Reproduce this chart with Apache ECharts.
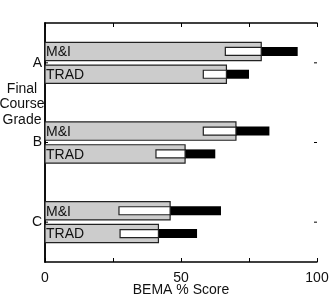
<!DOCTYPE html>
<html>
<head>
<meta charset="utf-8">
<script src="https://cdn.jsdelivr.net/npm/echarts@6/dist/echarts.min.js"></script>
<style>html,body{margin:0;padding:0;background:#fff}#c{width:331px;height:300px}</style>
</head>
<body>
<div id="c"></div>
<script>
var grades = ['A', 'B', 'C'];
var groups = ['M&I', 'TRAD'];
var meanMI = [79.5, 70.2, 46.0];
var lowMI = [66.3, 58.2, 27.2];
var highMI = [92.9, 82.5, 64.7];
var meanTRAD = [66.7, 51.5, 41.7];
var lowTRAD = [58.2, 40.8, 27.6];
var highTRAD = [75.0, 62.6, 55.9];
var xTicks = [0, 25, 50, 75, 100];
var xLabels = ['0', '', '50', '', '100'];

var data = [];
for (var i = 0; i < grades.length; i++) {
  data.push([i, 0, meanMI[i], lowMI[i], highMI[i]]);
  data.push([i, 1, meanTRAD[i], lowTRAD[i], highTRAD[i]]);
}

var FONT = 'Liberation Sans, Arial, sans-serif';

function renderItem(params, api) {
  var cat = api.value(0), g = api.value(1);
  var mean = api.value(2), lo = api.value(3), hi = api.value(4);
  var c0 = api.coord([0, cat]);
  var cR = api.coord([100, cat]);
  var band = api.size([0, 1])[1];
  var off = band * 0.143;
  var yc = c0[1] + (g === 0 ? -off : off);
  var bh = band * 0.23;
  var x0 = c0[0];
  var xm = api.coord([mean, cat])[0];
  var xl = api.coord([lo, cat])[0];
  var xh = api.coord([hi, cat])[0];
  var sh = 8;
  var children = [
    {type: 'rect', shape: {x: x0, y: yc - bh / 2, width: xm - x0, height: bh},
     style: {fill: '#cccccc', stroke: '#222', lineWidth: 1.2}},
    {type: 'rect', shape: {x: xm, y: yc - sh / 2 - 0.5, width: xh - xm, height: sh + 1},
     style: {fill: '#000', stroke: null}},
    {type: 'rect', shape: {x: xl, y: yc - sh / 2, width: xm - xl, height: sh},
     style: {fill: '#fff', stroke: '#222', lineWidth: 1.2}},
    {type: 'text', style: {x: x0 + 1, y: yc + 1, text: groups[g], fill: '#111',
      font: '14px ' + FONT, textAlign: 'left', textVerticalAlign: 'middle'}}
  ];
  if (g === 0) {
    children.push({type: 'line', shape: {x1: x0, y1: c0[1], x2: x0 + 3, y2: c0[1]},
      style: {stroke: '#000', lineWidth: 1}});
    children.push({type: 'line', shape: {x1: cR[0] - 3, y1: cR[1], x2: cR[0], y2: cR[1]},
      style: {stroke: '#000', lineWidth: 1}});
  }
  return {type: 'group', children: children};
}

var chart = echarts.init(document.getElementById('c'));
chart.setOption({
  animation: false,
  backgroundColor: '#fff',
  grid: {left: 45, right: 14, top: 23, bottom: 38, containLabel: false, outerBoundsMode: 'none'},
  xAxis: [{
    type: 'value', min: 0, max: 100, interval: 25, position: 'bottom',
    axisLine: {show: true, lineStyle: {color: '#000', width: 1.5}},
    axisTick: {show: true, inside: true, length: 4, lineStyle: {color: '#000'}},
    axisLabel: {color: '#111', fontSize: 14, fontFamily: FONT, margin: 9,
      formatter: function (v) { var k = xTicks.indexOf(v); return k >= 0 ? xLabels[k] : ''; }},
    splitLine: {show: false},
    name: 'BEMA % Score', nameLocation: 'middle', nameGap: 21, nameMoveOverlap: false,
    nameTextStyle: {color: '#111', fontSize: 14, fontFamily: FONT}
  }, {
    type: 'value', min: 0, max: 100, interval: 25, position: 'top',
    axisLine: {show: true, lineStyle: {color: '#000', width: 1.5}},
    axisTick: {show: true, inside: true, length: 4, lineStyle: {color: '#000'}},
    axisLabel: {show: false}, splitLine: {show: false}
  }],
  yAxis: [{
    type: 'category', data: grades, inverse: true, position: 'left',
    axisLine: {show: true, lineStyle: {color: '#000', width: 1.5}},
    axisTick: {show: false},
    axisLabel: {color: '#111', fontSize: 14, fontFamily: FONT, margin: 3}
  }, {
    type: 'category', data: grades, inverse: true, position: 'right',
    axisLine: {show: true, lineStyle: {color: '#000', width: 1.5}},
    axisTick: {show: false},
    axisLabel: {show: false}
  }],
  graphic: [{
    type: 'text', x: 22, y: 81,
    style: {text: 'Final\nCourse\nGrade', fill: '#111', font: '14px ' + FONT,
      textAlign: 'center', lineHeight: 15.5}
  }],
  series: [{
    type: 'custom', renderItem: renderItem, xAxisIndex: 0, yAxisIndex: 0,
    encode: {x: [2, 3, 4], y: 0}, data: data
  }]
});
</script>
</body>
</html>
